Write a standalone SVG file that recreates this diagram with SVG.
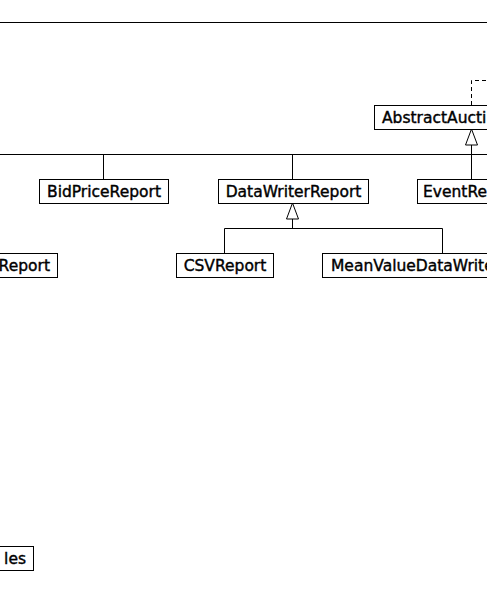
<svg xmlns="http://www.w3.org/2000/svg" width="487" height="593" viewBox="0 0 487 593">
<style>
.box{fill:#fff;stroke:#000;stroke-width:1}
.lbl{font-family:"DejaVu Sans",Verdana,sans-serif;font-size:15.5px;fill:#000;stroke:#000;stroke-width:0.4}
.ln{fill:none;stroke:#000;stroke-width:1}
.dash{fill:none;stroke:#000;stroke-width:1;stroke-dasharray:4,3}
.tri{fill:#fff;stroke:#000;stroke-width:1}
</style>
<rect width="487" height="593" fill="#fff"/>
<g id="connectors">
<line class="ln" x1="0" y1="22.5" x2="487" y2="22.5"/>
<path class="dash" d="M471.5,105 V80.5 H487"/>
<path class="ln" d="M0,154.5 H487"/>
<path class="ln" d="M471.5,145 V179"/>
<polygon class="tri" points="471.5,129 465.5,145 477.5,145"/>
<path class="ln" d="M103.5,154.5 V179"/>
<path class="ln" d="M292.5,154.5 V179"/>
<path class="ln" d="M292.5,219 V228.5 M224.5,253 V228.5 H442.5 V253"/>
<polygon class="tri" points="292.5,203 286.5,219 298.5,219"/>
</g>
<g id="AbstractAuction">
<rect class="box" x="374.5" y="105.5" width="130" height="24"/>
<text class="lbl" x="382" y="123">AbstractAucti</text>
</g>
<g id="BidPriceReport">
<rect class="box" x="39.5" y="179.5" width="129" height="24"/>
<text class="lbl" x="104" y="197" text-anchor="middle">BidPriceReport</text>
</g>
<g id="DataWriterReport">
<rect class="box" x="218.5" y="179.5" width="150" height="24"/>
<text class="lbl" x="293.5" y="197" text-anchor="middle">DataWriterReport</text>
</g>
<g id="EventReport">
<rect class="box" x="417.5" y="179.5" width="90" height="24"/>
<text class="lbl" x="423" y="197">EventRe</text>
</g>
<g id="Report">
<rect class="box" x="-20.5" y="253.5" width="78" height="24"/>
<text class="lbl" x="50" y="271" text-anchor="end">Report</text>
</g>
<g id="CSVReport">
<rect class="box" x="176.5" y="253.5" width="97" height="24"/>
<text class="lbl" x="225" y="271" text-anchor="middle">CSVReport</text>
</g>
<g id="MeanValueDataWriter">
<rect class="box" x="322.5" y="253.5" width="180" height="24"/>
<text class="lbl" x="331" y="271">MeanValueDataWrite</text>
</g>
<g id="Variables">
<rect class="box" x="-20.5" y="546.5" width="54" height="24"/>
<text class="lbl" x="26" y="564" text-anchor="end">les</text>
</g>
</svg>
